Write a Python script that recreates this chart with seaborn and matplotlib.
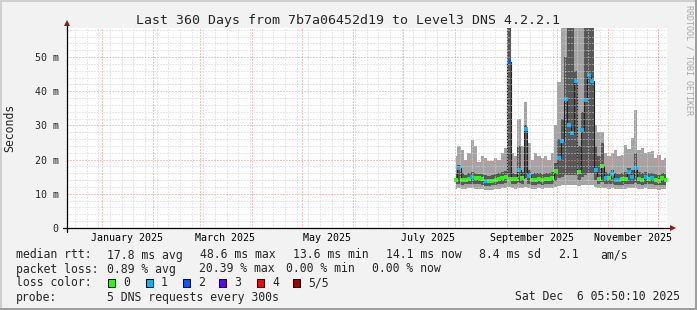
import numpy as np
import pandas as pd
import matplotlib
matplotlib.use("Agg")
import matplotlib.pyplot as plt
import matplotlib.dates as mdates
from matplotlib.patches import Rectangle
from matplotlib.lines import Line2D
import seaborn as sns

# ---------------- data (2-day bins, milliseconds) ----------------
first_bin = "2025-08-01 12:00"
median_ms = [14.0, 17.5, 14.0, 14.0, 14.3, 14.9, 14.6, 14.6, 14.2, 13.7,
             13.7, 13.8, 14.0, 14.3, 14.6, 14.9, 48.5, 14.2, 14.2, 17.0,
             14.5, 29.0, 15.2, 14.0, 14.0, 14.3, 14.0, 14.3, 14.3, 14.6,
             16.7, 20.5, 25.4, 37.7, 30.0, 27.8, 43.0, 16.4, 28.7, 37.4,
             44.7, 43.0, 17.0, 14.3, 18.0, 14.5, 14.5, 15.8, 14.0, 14.0,
             14.3, 14.3, 16.4, 14.9, 17.5, 14.3, 14.0, 14.9, 14.3, 14.6,
             14.0, 13.7, 14.6, 14.1]
loss_count = [0, 1, 0, 0, 0, 1, 0, 0, 0, 1,
              0, 0, 0, 0, 0, 0, 2, 0, 0, 1,
              0, 1, 1, 0, 0, 0, 0, 0, 0, 0,
              0, 1, 1, 1, 1, 1, 1, 0, 1, 1,
              1, 1, 1, 0, 0, 1, 0, 1, 1, 1,
              0, 0, 1, 1, 1, 0, 0, 1, 0, 1,
              0, 0, 0, 0]
ping_min = [11.5, 11.8, 11.5, 11.4, 11.6, 11.6, 11.5, 11.5, 11.3, 11.0,
            11.0, 11.2, 11.3, 11.5, 11.6, 11.8, 12.0, 11.6, 11.5, 11.8,
            11.6, 12.0, 11.8, 11.5, 11.5, 11.6, 11.5, 11.6, 11.6, 11.7,
            12.0, 12.2, 12.5, 12.5, 12.5, 12.5, 12.5, 12.2, 12.5, 12.5,
            12.5, 12.5, 12.0, 11.8, 11.8, 11.6, 11.5, 11.8, 11.3, 11.3,
            11.4, 11.5, 11.8, 11.6, 11.8, 11.5, 11.4, 11.6, 11.5, 11.5,
            11.3, 11.2, 11.4, 11.3]
ping_low = [12.8, 13.0, 12.7, 12.8, 12.9, 13.0, 12.9, 12.8, 12.7, 12.4,
            12.4, 12.5, 12.6, 12.8, 13.0, 13.2, 15.0, 12.8, 12.8, 13.2,
            12.9, 14.5, 13.0, 12.7, 12.7, 12.8, 12.7, 12.8, 12.9, 13.0,
            13.8, 14.5, 15.0, 15.5, 15.5, 15.5, 15.5, 14.0, 15.0, 15.5,
            16.0, 16.0, 14.0, 13.0, 13.5, 12.9, 12.8, 13.0, 12.6, 12.6,
            12.7, 12.8, 13.0, 12.9, 13.2, 12.8, 12.7, 12.9, 12.8, 12.8,
            12.6, 12.5, 12.7, 12.6]
ping_high = [15.8, 18.5, 16.0, 15.6, 16.0, 16.5, 16.2, 15.8, 15.8, 15.5,
             15.2, 15.5, 15.8, 16.0, 16.3, 16.8, 60.0, 16.0, 15.8, 24.0,
             16.5, 30.0, 17.0, 15.8, 16.0, 16.0, 15.8, 16.0, 16.0, 16.5,
             19.0, 26.0, 32.0, 50.0, 60.0, 60.0, 46.0, 24.0, 34.0, 60.0,
             60.0, 60.0, 24.0, 21.0, 25.0, 16.5, 16.0, 17.0, 16.0, 15.8,
             16.0, 16.5, 17.5, 17.0, 22.0, 16.5, 16.0, 16.5, 16.0, 16.2,
             15.8, 15.5, 16.0, 15.8]
ping_max = [21.0, 24.0, 22.8, 20.0, 22.0, 25.7, 24.0, 19.3, 21.0, 20.5,
            19.5, 19.5, 20.5, 20.0, 22.0, 23.4, 60.0, 22.0, 21.0, 32.0,
            24.0, 36.8, 25.0, 20.0, 22.0, 21.0, 20.5, 21.0, 20.0, 22.0,
            30.0, 42.7, 60.0, 60.0, 60.0, 60.0, 60.0, 60.0, 60.0, 60.0,
            60.0, 60.0, 30.0, 28.0, 28.0, 22.0, 21.0, 22.0, 22.8, 21.0,
            21.3, 24.3, 23.0, 26.3, 34.5, 22.8, 23.4, 22.0, 22.2, 22.5,
            20.5, 21.3, 20.0, 20.5]

y_ticks = [0, 10, 20, 30, 40, 50]
y_tick_labels = ["0", "10 m", "20 m", "30 m", "40 m", "50 m"]
x_label_months = ["2025-01-01", "2025-03-01", "2025-05-01", "2025-07-01",
                  "2025-09-01", "2025-11-01"]
x_tick_labels = ["January 2025", "March 2025", "May 2025", "July 2025",
                 "September 2025", "November 2025"]
loss_colors = {0: "#26ff00", 1: "#00b8ff", 2: "#0059ff",
               3: "#5e00ff", 4: "#ff0000", 5: "#a00000"}
loss_labels = ["0", "1", "2", "3", "4", "5/5"]

# ---------------- figure ----------------
sns.set_style("white")
plt.rcParams["font.family"] = ["DejaVu Sans Mono", "DejaVu Sans"]

W, H = 697, 310
fig = plt.figure(figsize=(W / 100, H / 100), dpi=100)
fig.patch.set_facecolor("#f2f2f2")

def fx(px):
    return px / W

def fy(py):
    return 1 - py / H

ax = fig.add_axes([fx(67), fy(228), fx(667) - fx(67), fy(28) - fy(228)])
ax.set_facecolor("white")

t0 = pd.Timestamp("2024-12-11 05:50:10")
t1 = pd.Timestamp("2025-12-06 05:50:10")
times = pd.date_range(first_bin, periods=len(median_ms), freq="2D")
df = pd.DataFrame({"time": times, "median": median_ms, "loss": loss_count,
                   "p1": ping_min, "p2": ping_low, "p4": ping_high, "p5": ping_max})

# smoke
ax.fill_between(df["time"], df["p1"], df["p5"], step="mid", color="#a4a4a4", lw=0, zorder=1)
ax.fill_between(df["time"], df["p2"], df["p4"], step="mid", color="#585858", lw=0, zorder=2)
# median line + loss-coloured markers
sns.lineplot(data=df, x="time", y="median", estimator=None, color="#202020", lw=0.8,
             drawstyle="steps-mid", ax=ax, zorder=3)
sns.scatterplot(data=df, x="time", y="median", hue="loss", palette=loss_colors,
                marker="s", s=8, linewidth=0, legend=False, ax=ax, zorder=4)

ax.set_xlim(t0, t1)
ax.set_ylim(0, 58.5)

# grid (drawn on top, like rrdtool)
dot = (0, (1, 2))
for v in np.arange(2, 58.5, 2):
    if v % 10:
        ax.axhline(v, color="#d2d2d2", ls=dot, lw=0.72, zorder=5)
for d in pd.date_range("2024-12-16", "2025-12-06", freq="7D"):
    ax.axvline(d, color="#d2d2d2", ls=dot, lw=0.72, zorder=5)
for v in y_ticks[1:]:
    ax.axhline(v, color="#f08c8c", ls=dot, lw=0.72, zorder=6)
for d in pd.date_range("2025-01-01", "2025-12-01", freq="MS"):
    ax.axvline(d, color="#f08c8c", ls=dot, lw=0.72, zorder=6)

# ticks
ax.set_yticks(y_ticks)
ax.set_yticklabels(y_tick_labels)
label_pos = pd.to_datetime(x_label_months) + pd.Timedelta(days=15)
ax.set_xticks(label_pos)
ax.set_xticklabels(x_tick_labels)
ax.tick_params(axis="x", length=0, pad=3.5, labelsize=7.2, colors="black")
ax.tick_params(axis="y", length=3, width=0.7, color="#f08c8c", pad=3.0, labelsize=7.2)
ax.set_xlabel("")
ax.set_ylabel("")
for s in ax.spines.values():
    s.set_visible(False)

# axis lines with arrows
ax.add_line(Line2D([-4 / 600, 1 + 4 / 600], [0, 0], transform=ax.transAxes,
                   color="black", lw=0.9, clip_on=False, zorder=7))
ax.add_line(Line2D([0, 0], [-4 / 200, 1 + 4 / 200], transform=ax.transAxes,
                   color="black", lw=0.9, clip_on=False, zorder=7))
ax.plot([1 + 6 / 600], [0], marker=">", ms=4.5, color="#8b1a1a", mew=0,
        transform=ax.transAxes, clip_on=False, zorder=8)
ax.plot([0], [1 + 5 / 200], marker="^", ms=4.5, color="#8b1a1a", mew=0,
        transform=ax.transAxes, clip_on=False, zorder=8)

# texts
fig.text(0.5, fy(24), "Last 360 Days from 7b7a06452d19 to Level3 DNS 4.2.2.1",
         ha="center", va="baseline", fontsize=9.5)
fig.text(fx(10), fy(128), "Seconds", rotation=90, ha="center", va="center", fontsize=8.3)
fig.text(fx(688.5), fy(5), "RRDTOOL / TOBI OETIKER", rotation=270, ha="center", va="top",
         fontsize=6.0, color="#a8a8a8")

fs = 8.3
rows = [
    (258.5, [(16, "median rtt:"), (107, "17.8 ms avg"), (200, "48.6 ms max"),
             (293, "13.6 ms min"), (386, "14.1 ms now"), (479, "8.4 ms sd"),
             (558, "2.1"), (600, "am/s")]),
    (272.5, [(16, "packet loss:"), (107, "0.89 % avg"), (199, "20.39 % max"),
             (286, "0.00 % min"), (372, "0.00 % now")]),
    (286.5, [(16, "loss color:")]),
    (300.5, [(16, "probe:"), (107, "5 DNS requests every 300s")]),
]
for yb, items in rows:
    for xp, txt in items:
        fig.text(fx(xp), fy(yb), txt, ha="left", va="baseline", fontsize=fs)
fig.text(fx(680), fy(300.5), "Sat Dec  6 05:50:10 2025", ha="right", va="baseline", fontsize=fs)

sq_x = [108, 146, 183, 219, 257, 293]
for i, xp in enumerate(sq_x):
    fig.add_artist(Rectangle((fx(xp), fy(286.5)), 7 / W, 8 / H, transform=fig.transFigure,
                             facecolor=loss_colors[i], edgecolor="black", lw=0.7))
    fig.text(fx(xp + 15), fy(286.5), loss_labels[i], ha="left", va="baseline", fontsize=fs)

# 3-D frame
fig.add_artist(Rectangle((0, 1 - 2 / H), 1, 2 / H, transform=fig.transFigure, color="#cfcfcf", lw=0))
fig.add_artist(Rectangle((0, 0), 2 / W, 1, transform=fig.transFigure, color="#cfcfcf", lw=0))
fig.add_artist(Rectangle((0, 0), 1, 2 / H, transform=fig.transFigure, color="#9e9e9e", lw=0))
fig.add_artist(Rectangle((1 - 2 / W, 0), 2 / W, 1, transform=fig.transFigure, color="#9e9e9e", lw=0))

fig.savefig("out.png", dpi=100, facecolor=fig.get_facecolor())
